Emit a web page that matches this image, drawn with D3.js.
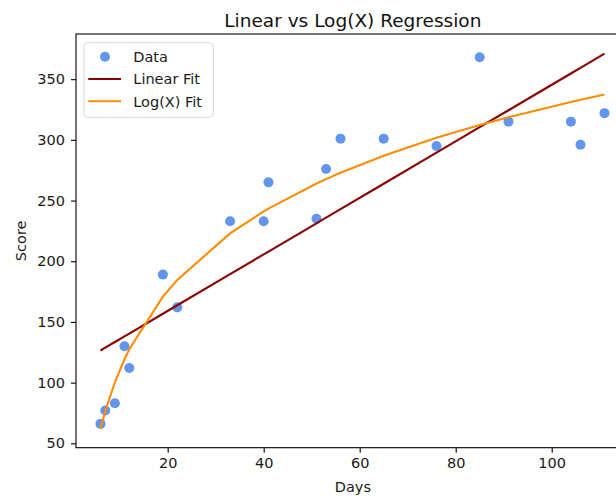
<!DOCTYPE html>
<html>
<head>
<meta charset="utf-8">
<script src="https://cdn.jsdelivr.net/npm/d3@7"></script>
<style>
  html, body { margin: 0; padding: 0; background: #fff; }
  svg { display: block; font-family: "DejaVu Sans", sans-serif; }
</style>
</head>
<body>
<svg id="chart" width="616" height="496"></svg>
<script>
// ---- data ----
const days   = [6, 7, 9, 11, 12, 19, 22, 33, 40, 41, 51, 53, 56, 65, 76, 85, 91, 104, 106, 111];
const scores = [66, 77, 83, 130, 112, 189, 162, 233, 233, 265, 235, 276, 301, 301, 295, 368, 315, 315, 296, 322];
const xTicks = [20, 40, 60, 80, 100];
const yTicks = [50, 100, 150, 200, 250, 300, 350];
const seriesNames = ["Data", "Linear Fit", "Log(X) Fit"];
const colors = { data: "#6495ED", linear: "#8B0000", log: "#FF8C00" };

// ---- regressions ----
function ols(xs, ys) {
  const n = xs.length;
  const mx = d3.mean(xs), my = d3.mean(ys);
  let sxy = 0, sxx = 0;
  for (let i = 0; i < n; i++) { sxy += (xs[i] - mx) * (ys[i] - my); sxx += (xs[i] - mx) ** 2; }
  const b = sxy / sxx;
  return { a: my - b * mx, b };
}
const lin = ols(days, scores);
const lnDays = days.map(Math.log);
const lg = ols(lnDays, scores);
const order = d3.range(days.length).sort((i, j) => days[i] - days[j]);
const linPts = order.map(i => [days[i], lin.a + lin.b * days[i]]);
const logPts = order.map(i => [days[i], lg.a + lg.b * Math.log(days[i])]);

// ---- layout ----
const svg = d3.select("#chart");
const L = 76, R = 629.7, T = 34, B = 447.7;
const x = d3.scaleLinear().domain([0.9, 116.25]).range([L, R]);
const y = d3.scaleLinear().domain([46.4, 387.2]).range([B, T]);

const FS = 14.5;

// axes
const xAxis = d3.axisBottom(x).tickValues(xTicks).tickSize(5).tickPadding(5).tickFormat(d3.format("d"));
const yAxis = d3.axisLeft(y).tickValues(yTicks).tickSize(5).tickPadding(6).tickFormat(d3.format("d"));

const gx = svg.append("g").attr("transform", `translate(0,${B})`).call(xAxis);
const gy = svg.append("g").attr("transform", `translate(${L},0)`).call(yAxis);
[gx, gy].forEach(g => {
  g.select(".domain").remove();
  g.selectAll(".tick line").attr("stroke", "#000").attr("stroke-width", 1.1);
  g.selectAll(".tick text").attr("fill", "#1a1a1a").style("font-size", FS + "px").style("font-family", "DejaVu Sans");
});

// scatter
svg.append("g").selectAll("circle").data(days.map((d, i) => [d, scores[i]]))
  .join("circle")
  .attr("cx", d => x(d[0])).attr("cy", d => y(d[1])).attr("r", 5)
  .attr("fill", colors.data);

// lines
const line = d3.line().x(d => x(d[0])).y(d => y(d[1]));
svg.append("path").datum(linPts).attr("d", line)
  .attr("fill", "none").attr("stroke", colors.linear).attr("stroke-width", 2.1);
svg.append("path").datum(logPts).attr("d", line)
  .attr("fill", "none").attr("stroke", colors.log).attr("stroke-width", 2.1);

// spines
svg.append("rect").attr("x", L).attr("y", T).attr("width", R - L).attr("height", B - T)
  .attr("fill", "none").attr("stroke", "#000").attr("stroke-width", 1.1);

// title and labels
svg.append("text").attr("x", (L + R) / 2).attr("y", 26.5).attr("text-anchor", "middle")
  .style("font-size", "18.5px").attr("fill", "#111").text("Linear vs Log(X) Regression");
svg.append("text").attr("x", (L + R) / 2).attr("y", 492).attr("text-anchor", "middle")
  .style("font-size", FS + "px").attr("fill", "#1a1a1a").text("Days");
svg.append("text").attr("transform", `translate(26,${(T + B) / 2}) rotate(-90)`).attr("text-anchor", "middle")
  .style("font-size", FS + "px").attr("fill", "#1a1a1a").text("Score");

// legend
const lg0 = svg.append("g");
lg0.append("rect").attr("x", 84).attr("y", 42.7).attr("width", 129.3).attr("height", 74.6)
  .attr("rx", 4).attr("fill", "rgba(255,255,255,0.8)").attr("stroke", "#d6d6d6").attr("stroke-width", 1);
const rows = [56.7, 79, 101.3];
lg0.append("circle").attr("cx", 105).attr("cy", rows[0]).attr("r", 5).attr("fill", colors.data);
lg0.append("line").attr("x1", 88.3).attr("x2", 121).attr("y1", rows[1]).attr("y2", rows[1])
  .attr("stroke", colors.linear).attr("stroke-width", 2.1);
lg0.append("line").attr("x1", 88.3).attr("x2", 121).attr("y1", rows[2]).attr("y2", rows[2])
  .attr("stroke", colors.log).attr("stroke-width", 2.1);
seriesNames.forEach((name, i) => {
  lg0.append("text").attr("x", 133.3).attr("y", rows[i]).attr("dy", "0.36em")
    .style("font-size", FS + "px").attr("fill", "#1a1a1a").text(name);
});
</script>
</body>
</html>
